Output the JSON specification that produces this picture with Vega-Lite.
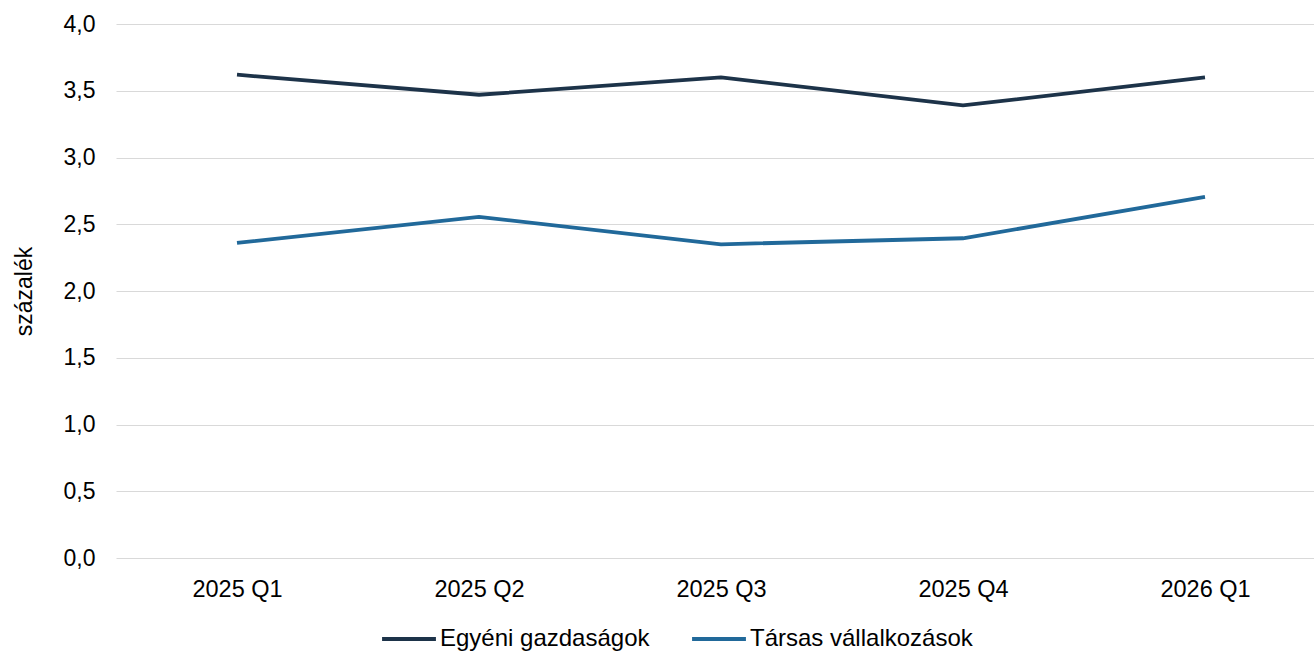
{
  "$schema": "https://vega.github.io/schema/vega-lite/v6.json",
  "autosize": {"type": "none"},
  "width": 1210,
  "height": 534,
  "padding": {"left": 116, "top": 24, "right": 0, "bottom": 93},
  "background": "white",
  "config": {
    "font": "Liberation Sans",
    "view": {"stroke": null}
  },
  "data": {
    "values": [
      {"negyedev": "2025 Q1", "sorozat": "Egyéni gazdaságok", "ertek": 3.62},
      {"negyedev": "2025 Q2", "sorozat": "Egyéni gazdaságok", "ertek": 3.47},
      {"negyedev": "2025 Q3", "sorozat": "Egyéni gazdaságok", "ertek": 3.60},
      {"negyedev": "2025 Q4", "sorozat": "Egyéni gazdaságok", "ertek": 3.39},
      {"negyedev": "2026 Q1", "sorozat": "Egyéni gazdaságok", "ertek": 3.60},
      {"negyedev": "2025 Q1", "sorozat": "Társas vállalkozások", "ertek": 2.36},
      {"negyedev": "2025 Q2", "sorozat": "Társas vállalkozások", "ertek": 2.555},
      {"negyedev": "2025 Q3", "sorozat": "Társas vállalkozások", "ertek": 2.35},
      {"negyedev": "2025 Q4", "sorozat": "Társas vállalkozások", "ertek": 2.395},
      {"negyedev": "2026 Q1", "sorozat": "Társas vállalkozások", "ertek": 2.705}
    ]
  },
  "mark": {"type": "line", "strokeWidth": 3.8},
  "encoding": {
    "x": {
      "field": "negyedev",
      "type": "ordinal",
      "scale": {"type": "point", "padding": 0.5},
      "axis": {
        "title": null,
        "labelAngle": 0,
        "labelFontSize": 23.5,
        "labelColor": "#000000",
        "labelPadding": 19,
        "ticks": false,
        "domain": false,
        "grid": false
      }
    },
    "y": {
      "field": "ertek",
      "type": "quantitative",
      "scale": {"domain": [0, 4], "nice": false},
      "axis": {
        "title": "százalék",
        "titleFontSize": 23,
        "titleFontWeight": "normal",
        "titleColor": "#000000",
        "titlePadding": 27,
        "values": [0, 0.5, 1, 1.5, 2, 2.5, 3, 3.5, 4],
        "labelExpr": "replace(format(datum.value, '.1f'), '.', ',')",
        "labelFontSize": 23,
        "labelColor": "#000000",
        "labelPadding": 21,
        "ticks": false,
        "domain": false,
        "grid": true,
        "gridColor": "#d9d9d9",
        "gridWidth": 1
      }
    },
    "color": {
      "field": "sorozat",
      "type": "nominal",
      "scale": {
        "domain": ["Egyéni gazdaságok", "Társas vállalkozások"],
        "range": ["#1d3349", "#21699a"]
      },
      "legend": {
        "title": null,
        "orient": "none",
        "direction": "horizontal",
        "legendX": 264,
        "legendY": 586,
        "symbolType": "stroke",
        "symbolSize": 2900,
        "symbolStrokeWidth": 3.8,
        "labelFontSize": 24,
        "labelColor": "#000000",
        "labelOffset": 2,
        "labelLimit": 0,
        "columnPadding": 34
      }
    }
  }
}
